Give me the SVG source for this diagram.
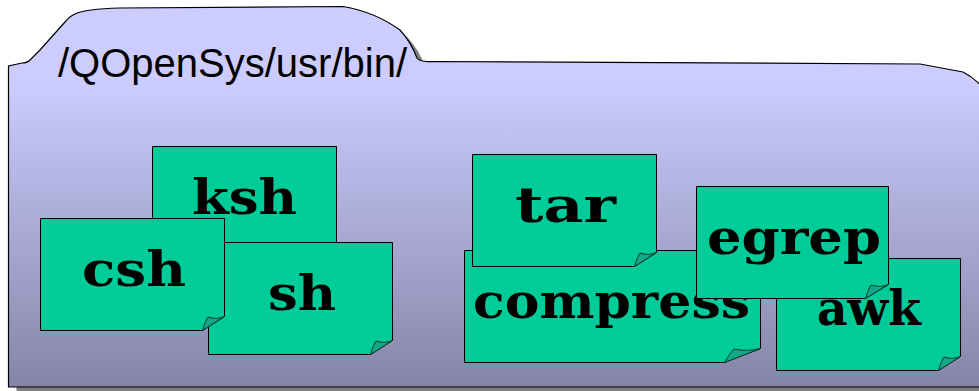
<svg xmlns="http://www.w3.org/2000/svg" width="979" height="391" viewBox="0 0 979 391">
<style>
.note{fill:#00cc99;stroke:#000;stroke-width:1}
.curl{fill:#12a985;stroke:#0b3b30;stroke-width:1}
.label{font-family:"DejaVu Serif",serif;font-weight:bold;font-size:48px;fill:#000;text-anchor:middle}
</style>
<defs>
<linearGradient id="g" x1="0" y1="0" x2="0" y2="1"><stop offset="0" stop-color="#ccccff"/><stop offset="0.2" stop-color="#ccccff"/><stop offset="1" stop-color="#8585a8"/></linearGradient>
<path id="shape" d="M8.500 66 L8.500 387 L985 387 L985 90 Q975 78 963 72 L920 64 L430 61.500 Q420 62 417 58 Q411 42 400 30 Q375 12 343 6.500 L120 8 Q85 9 75 14 Q70 16 65 22 L40 50 L30 60 Q27 63 22 63 Z"/>
</defs>
<g id="folder">
<use href="#shape" transform="translate(8,8)" fill="#808080"/>
<use href="#shape" fill="url(#g)" stroke="#000" stroke-width="1.200"/>
<text x="58" y="77" font-family="Liberation Sans, Arial, sans-serif" font-size="40" fill="#000">/QOpenSys/usr/bin/</text>
</g>
<g id="connectors"/>
<g id="ksh">
<path class="note" d="M152.500 146.500H336.500V244.500L314.500 258.500H152.500Z"/>
<path class="curl" d="M314.500 258.500Q317 249 320 245Q328 248 336.500 244.500Z"/>
<text class="label" x="244.500" y="214" textLength="105" lengthAdjust="spacingAndGlyphs">ksh</text>
</g>
<g id="sh">
<path class="note" d="M208.500 242.500H392.500V340.500L370.500 354.500H208.500Z"/>
<path class="curl" d="M370.500 354.500Q373 345 376 341Q384 344 392.500 340.500Z"/>
<text class="label" x="302" y="310" textLength="68" lengthAdjust="spacingAndGlyphs">sh</text>
</g>
<g id="csh">
<path class="note" d="M40.500 218.500H224.500V316.500L202.500 330.500H40.500Z"/>
<path class="curl" d="M202.500 330.500Q205 321 208 317Q216 320 224.500 316.500Z"/>
<text class="label" x="134" y="286" textLength="104" lengthAdjust="spacingAndGlyphs">csh</text>
</g>
<g id="compress">
<path class="note" d="M464.500 250.500H760.500V348.500L724.500 362.500H464.500Z"/>
<path class="curl" d="M724.500 362.500Q730 353 734 349Q746 352 760.500 348.500Z"/>
<text class="label" x="611.500" y="318" textLength="277" lengthAdjust="spacingAndGlyphs">compress</text>
</g>
<g id="tar">
<path class="note" d="M472.500 154.500H656.500V252.500L634.500 266.500H472.500Z"/>
<path class="curl" d="M634.500 266.500Q637 257 640 253Q648 256 656.500 252.500Z"/>
<text class="label" x="565.500" y="222" textLength="101" lengthAdjust="spacingAndGlyphs">tar</text>
</g>
<g id="awk">
<path class="note" d="M776.500 258.500H960.500V356.500L938.500 370.500H776.500Z"/>
<path class="curl" d="M938.500 370.500Q941 361 944 357Q952 360 960.500 356.500Z"/>
<text class="label" x="869" y="325" textLength="104" lengthAdjust="spacingAndGlyphs">awk</text>
</g>
<g id="egrep">
<path class="note" d="M696.500 186.500H888.500V284.500L865.500 298.500H696.500Z"/>
<path class="curl" d="M865.500 298.500Q868 289 871 285Q880 288 888.500 284.500Z"/>
<text class="label" x="794" y="254" textLength="174" lengthAdjust="spacingAndGlyphs">egrep</text>
</g>
</svg>
